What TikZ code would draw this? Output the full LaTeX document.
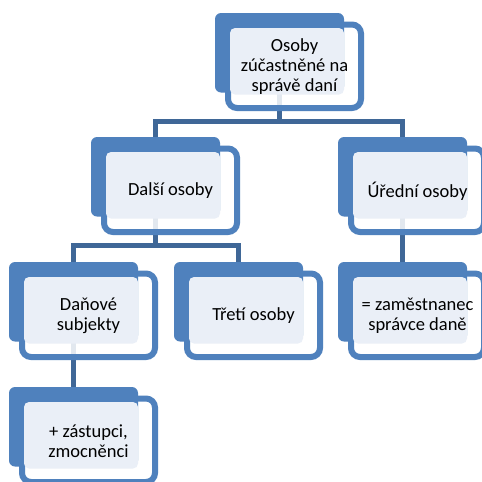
\documentclass[tikz,border=0pt]{standalone}
\usepackage{fontspec}
\setmainfont{Carlito}
\usetikzlibrary{calc}
\pgfdeclarelayer{bg}
\pgfdeclarelayer{conn}
\pgfdeclarelayer{frame}
\pgfsetlayers{bg,conn,frame,main}
\definecolor{acc}{HTML}{4F81BD}
\definecolor{conncol}{HTML}{3F6797}
\definecolor{panelcol}{HTML}{EAEFF7}
\tikzset{
  bluebox/.style={fill=acc, draw=none, rounded corners=6pt, minimum width=129pt, minimum height=79.5pt, inner sep=0pt},
  framebox/.style={draw=acc, line width=6pt, rounded corners=9pt, fill=white, fill opacity=0.85, draw opacity=1},
  panelbox/.style={fill=panelcol, rounded corners=5pt},
  lbl/.style={align=center, inner sep=0pt, text=black, font=\fontsize{18.5}{20}\selectfont},
  connline/.style={draw=conncol, line width=5pt}
}
\newcommand\orgbox[4]{%
  \node[bluebox] (#1) at (#2+64.5,#3+39.75) {};
  \begin{pgfonlayer}{frame}
    \draw[framebox] (#2+13,#3+11.5) rectangle (#2+146,#3+95);
  \end{pgfonlayer}
  \fill[panelbox] (#2+15,#3+15) rectangle (#2+129,#3+81.5);
  \node[lbl] (#1-t) at (#2+79.5,#3+54) {#4};
}
\begin{document}
\begin{tikzpicture}[x=1pt,y=-1pt]
\useasboundingbox (0,0) rectangle (482,482);
\begin{pgfonlayer}{bg}
  \fill[white] (0,0) rectangle (482,482);
\end{pgfonlayer}
\orgbox{top}{215}{13}{Osoby\\zúčastněné na\\správě daní}
\orgbox{dalsi}{91}{137}{Další osoby}
\orgbox{uredni}{338}{137}{Úřední osoby}
\orgbox{danove}{9}{262}{Daňové\\subjekty}
\orgbox{treti}{174}{262}{Třetí osoby}
\orgbox{zam}{338}{262}{= zaměstnanec\\správce daně}
\orgbox{zast}{9}{387}{+ zástupci,\\zmocněnci}
\begin{pgfonlayer}{conn}
  \draw[connline] (top.south) |- ([yshift=15pt]dalsi.north) -- (dalsi.north);
  \draw[connline] (top.south) |- ([yshift=15pt]uredni.north) -- (uredni.north);
  \draw[connline] (dalsi.south) |- ([yshift=16pt]danove.north) -- (danove.north);
  \draw[connline] (dalsi.south) |- ([yshift=16pt]treti.north) -- (treti.north);
  \draw[connline] (uredni.south) -- (zam.north);
  \draw[connline] (danove.south) -- (zast.north);
\end{pgfonlayer}
\end{tikzpicture}
\end{document}
